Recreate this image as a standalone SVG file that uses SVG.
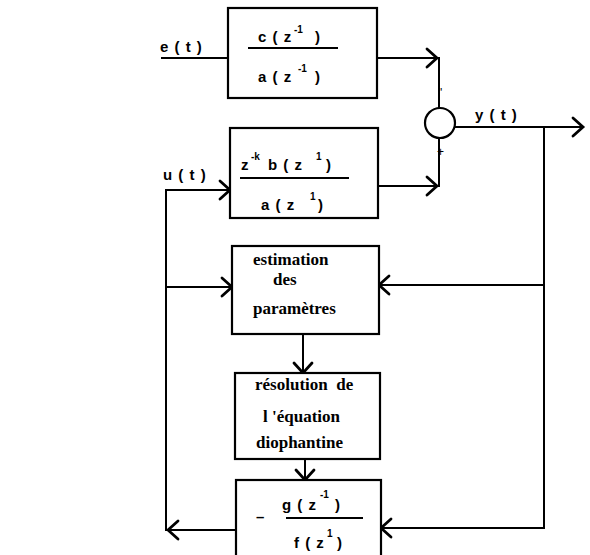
<svg xmlns="http://www.w3.org/2000/svg" width="590" height="555" viewBox="0 0 590 555">
<style>
.box{fill:#fff;stroke:#000;stroke-width:2.2}
.ln{fill:none;stroke:#000;stroke-width:2}
.ah{fill:none;stroke:#000;stroke-width:2.8;stroke-linecap:round;stroke-linejoin:miter}
.sf{font-family:"Liberation Sans",Arial,sans-serif;font-weight:bold;font-size:15px;letter-spacing:1px;fill:#000}
.sup{font-family:"Liberation Sans",Arial,sans-serif;font-weight:bold;font-size:10px;fill:#000}
.pm{font-family:"Liberation Sans",Arial,sans-serif;font-size:12px;fill:#000}
.rm{font-family:"Liberation Serif","Times New Roman",serif;font-weight:bold;font-size:17px;fill:#000}
</style>
<defs>
<path id="ah" d="M-10,-9 L0,0 L-10,9"/>
</defs>
<rect width="590" height="555" fill="#fff"/>
<g id="connectors">
<path class="ln" d="M161 58 H228"/>
<path class="ln" d="M377 58 H439 V108"/>
<path class="ln" d="M378 186 H439 V139"/>
<path class="ln" d="M455 127 H583"/>
<path class="ln" d="M544 127 V528 H381"/>
<path class="ln" d="M544 285 H379"/>
<path class="ln" d="M236 530 H166 V190 H230"/>
<path class="ln" d="M165 287 H232"/>
<path class="ln" d="M303 334 V373"/>
<path class="ln" d="M305 459 V480"/>
<use href="#ah" class="ah" transform="translate(437,58)"/>
<use href="#ah" class="ah" transform="translate(437,186)"/>
<use href="#ah" class="ah" transform="translate(583,127)"/>
<use href="#ah" class="ah" transform="translate(381,528) rotate(180)"/>
<use href="#ah" class="ah" transform="translate(379,285) rotate(180)"/>
<use href="#ah" class="ah" transform="translate(168,530) rotate(180)"/>
<use href="#ah" class="ah" transform="translate(230,190)"/>
<use href="#ah" class="ah" transform="translate(232,287)"/>
<use href="#ah" class="ah" transform="translate(303,373) rotate(90)"/>
<use href="#ah" class="ah" transform="translate(305,480) rotate(90)"/>
</g>
<g id="labels">
<text class="sf" x="160" y="52">e ( t )</text>
<text class="sf" x="163" y="180">u ( t )</text>
<text class="sf" x="475" y="120">y ( t )</text>
</g>
<g id="sum">
<circle cx="440" cy="123" r="15" fill="#fff" stroke="#000" stroke-width="2.2"/>
<text class="pm" x="440" y="97">'</text>
<text class="pm" x="437" y="156">+</text>
</g>
<g id="box1">
<rect class="box" x="228" y="8" width="149" height="90"/>
<text class="sf" x="258" y="42">c ( z</text>
<text class="sup" x="294" y="33">-1</text>
<text class="sf" x="315" y="42">)</text>
<line class="ln" x1="248" y1="48" x2="338" y2="48"/>
<text class="sf" x="258" y="82">a ( z</text>
<text class="sup" x="298" y="72">-1</text>
<text class="sf" x="315" y="82">)</text>
</g>
<g id="box2">
<rect class="box" x="230" y="128" width="148" height="90"/>
<text class="sf" x="241" y="170">z</text>
<text class="sup" x="251" y="160">-k</text>
<text class="sf" x="268" y="170">b ( z</text>
<text class="sup" x="316" y="160">1</text>
<text class="sf" x="326" y="170">)</text>
<line class="ln" x1="240" y1="178" x2="349" y2="178"/>
<text class="sf" x="261" y="210">a ( z</text>
<text class="sup" x="310" y="200">1</text>
<text class="sf" x="318" y="210">)</text>
</g>
<g id="estimation">
<rect class="box" x="232" y="246" width="147" height="88"/>
<text class="rm" x="253" y="265">estimation</text>
<text class="rm" x="273" y="285">des</text>
<text class="rm" x="253" y="314">paramètres</text>
</g>
<g id="resolution">
<rect class="box" x="235" y="373" width="145" height="86"/>
<text class="rm" x="255" y="390" xml:space="preserve">résolution  de</text>
<text class="rm" x="263" y="422">l 'équation</text>
<text class="rm" x="256" y="448">diophantine</text>
</g>
<g id="controller">
<rect class="box" x="236" y="480" width="145" height="90"/>
<text class="sf" x="256" y="522">–</text>
<text class="sf" x="282" y="510">g ( z</text>
<text class="sup" x="320" y="498">-1</text>
<text class="sf" x="335" y="510">)</text>
<line class="ln" x1="286" y1="518" x2="363" y2="518"/>
<text class="sf" x="294" y="548">f ( z</text>
<text class="sup" x="327" y="537">1</text>
<text class="sf" x="337" y="548">)</text>
</g>
</svg>
